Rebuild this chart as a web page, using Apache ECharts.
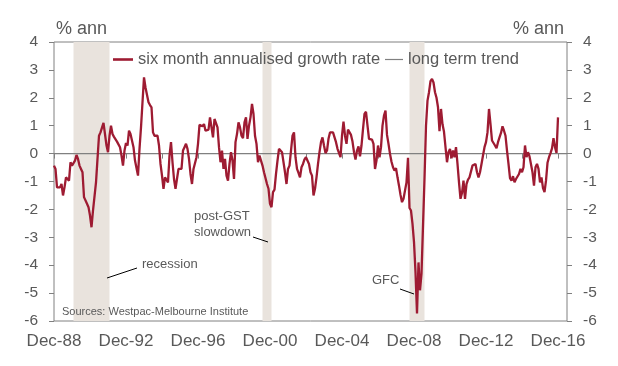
<!DOCTYPE html>
<html><head><meta charset="utf-8">
<script src="https://cdn.jsdelivr.net/npm/echarts@6/dist/echarts.min.js"></script>
<style>html,body{margin:0;padding:0;background:#fff}#c{width:618px;height:366px}</style>
</head><body><div id="c"></div>
<script>
// ---------- DATA ----------
const MONTH_NAMES = ['Jan','Feb','Mar','Apr','May','Jun','Jul','Aug','Sep','Oct','Nov','Dec'];
const START_YEAR = 1988, START_MONTH = 11, N_MONTHS = 343; // Dec-88 .. Jun-17 (axis span)
const categories = [];
for (let i = 0; i < N_MONTHS; i++) {
  const y = START_YEAR + Math.floor((START_MONTH + i) / 12);
  const m = (START_MONTH + i) % 12;
  categories.push(MONTH_NAMES[m] + '-' + String(y % 100).padStart(2, '0'));
}
const tickLabels = ['Dec-88','Dec-92','Dec-96','Dec-00','Dec-04','Dec-08','Dec-12','Dec-16'];
const yTicks = [-6,-5,-4,-3,-2,-1,0,1,2,3,4];

// six month annualised growth rate, monthly, Dec-88 onward
const growth1989_92 = [-0.43,-0.55,-1.21,-1.26,-1.21,-1.09,-1.50,-1.21,-0.85,-0.88,-0.97,-0.31,
  -0.43,-0.49,-0.25,-0.05,-0.19,-0.43,-0.55,-0.67,-1.56,-1.62,-1.80,-1.92,
  -2.22,-2.64,-2.04,-1.98,-1.03,-0.19,0.64,0.76,0.70,1.10,1.12,0.29,
  0.05,0.64,1.00,0.70,0.60,0.53,0.43,0.38,0.23,-0.07,-0.43,0.11];
const growth1993_96 = [0.38,0.29,0.82,0.70,0.74,0.23,-0.25,-0.19,-0.79,0.17,0.94,1.84,
  2.73,2.37,2.32,1.84,1.74,1.66,0.76,0.64,0.67,0.64,0.29,-0.37,
  -0.79,-1.26,-0.85,-0.79,-1.03,-0.07,0.41,-0.31,-0.91,-1.26,-1.21,-0.55,
  -0.49,-0.55,0.11,0.23,0.35,0.17,-0.19,-0.73,-1.09,-0.55,-0.49,-0.13];
const growth1997_00 = [0.35,1.03,1.00,0.98,1.06,0.82,0.82,0.86,1.30,1.36,0.58,1.24,
  1.26,0.94,0.23,-0.31,0.11,-0.55,-0.19,-0.79,-0.97,-0.37,0.05,-0.25,
  -0.91,0.41,0.70,1.12,0.94,0.64,0.55,1.12,1.30,0.53,1.00,1.30,
  1.78,1.42,0.64,0.35,-0.31,-0.07,-0.05,-0.43,-0.67,-0.67,-1.09,-1.26];
const growth2001_04 = [-1.80,-1.92,-1.38,-1.29,-0.73,-0.25,0.17,0.14,0.05,0.02,-0.67,-1.09,
  -0.55,-0.43,0.11,0.64,0.76,-0.13,-0.55,-0.69,-0.85,-0.49,-0.37,-0.21,
  -0.13,-0.19,-0.37,-0.67,-0.79,-1.50,-1.26,-0.85,-0.37,0.05,0.41,0.58,
  0.29,0.02,0.11,0.53,0.76,0.82,0.76,0.70,0.41,0.17,0.17,-0.13];
const growth2005_08 = [0.64,1.15,0.64,0.35,0.86,0.82,0.67,0.43,0.05,-0.21,0.11,0.26,
  -0.10,0.29,0.88,1.42,1.50,1.00,0.53,0.47,0.50,0.35,-0.55,-0.25,
  0.29,-0.13,0.23,1.00,1.36,1.54,0.67,0.35,-0.01,-0.29,-0.49,-0.61,
  -0.52,-0.85,-1.15,-1.48,-1.74,-1.62,-1.62,-1.03,-0.15,-1.95,-2.04,-2.52];
const growth2009_12 = [-3.17,-4.25,-5.73,-3.90,-4.90,-4.30,-2.60,-0.90,1.00,1.90,2.20,2.60,
  2.68,2.55,2.20,2.00,1.66,0.80,1.60,1.05,0.78,0.82,-0.31,0.05,
  0.17,-0.17,0.11,-0.13,0.23,-0.37,-1.03,-1.62,-1.41,-0.97,-1.62,-1.09,
  -0.93,-0.85,-0.85,-0.43,-0.41,-0.37,-0.67,-0.85,-0.67,-0.37,-0.07,0.23];
const growth2013_16 = [0.41,0.76,1.60,1.06,0.47,0.41,0.29,0.19,0.41,0.58,0.74,0.98,
  0.82,0.64,0.11,-0.37,-0.88,-0.97,-0.81,-1.03,-0.91,-0.97,-0.73,-0.55,
  -0.67,-0.49,0.29,-0.13,0.05,-0.10,-0.07,-0.67,-1.15,-0.49,-0.37,-0.55,
  -1.03,-0.85,-1.24,-1.38,-0.97,-0.33,-0.13,0.02,0.19,0.55,0.23,0.02,
  1.30];
const growthRate = [].concat(growth1989_92, growth1993_96, growth1997_00,
  growth2001_04, growth2005_08, growth2009_12, growth2013_16);
const longTermTrend = categories.map(() => 0);

const slowdowns = [['Jan-90','Jan-92'], ['Jul-00','Jan-01'], ['Sep-08','Jul-09']];

// ---------- CHART ----------
const FONT = '"Liberation Sans", Arial, sans-serif';
const TXT = '#595959';
const AX = '#808080';
const RED = '#9E1B32';
const GREY = '#808080';
const legendBase = {
  top: 51, padding: 0, icon: 'rect', itemWidth: 20,
  textStyle: {fontSize: 16.5, color: TXT, fontFamily: FONT}
};
const chart = echarts.init(document.getElementById('c'), null, {renderer: 'canvas'});
chart.setOption({
  animation: false,
  backgroundColor: '#fff',
  textStyle: {fontFamily: FONT},
  grid: {left: 54, right: 51, top: 42, bottom: 45, show: true, borderColor: AX, borderWidth: 1, backgroundColor: 'transparent'},
  legend: [
    Object.assign({}, legendBase, {left: 113, itemHeight: 2.6, data: ['six month annualised growth rate']}),
    Object.assign({}, legendBase, {left: 385, itemWidth: 18, itemHeight: 1.2, data: ['long term trend']})
  ],
  xAxis: {
    type: 'category', data: categories, boundaryGap: false,
    axisLine: {show: false},
    axisTick: {show: true, interval: 23, length: 5, lineStyle: {color: AX}},
    axisLabel: {
      interval: (i, v) => tickLabels.includes(v), fontSize: 17, color: TXT, margin: 12, fontFamily: FONT
    },
    splitLine: {show: false}
  },
  yAxis: [0, 1].map(i => ({
    type: 'value', min: yTicks[0], max: yTicks[yTicks.length - 1], interval: 1,
    position: i === 0 ? 'left' : 'right',
    axisLine: {show: false},
    axisTick: {show: true, length: 5, lineStyle: {color: AX}},
    axisLabel: {fontSize: 15.5, color: TXT, margin: 16, fontFamily: FONT},
    splitLine: {show: false}
  })),
  series: [
    {
      name: 'long term trend', type: 'line', data: longTermTrend, symbol: 'none', z: 1,
      lineStyle: {color: GREY, width: 1.2}, itemStyle: {color: GREY},
      silent: true,
      markArea: {
        silent: true, itemStyle: {color: '#E9E3DD'},
        data: slowdowns.map(b => [{xAxis: b[0]}, {xAxis: b[1]}])
      }
    },
    {
      name: 'six month annualised growth rate', type: 'line', data: growthRate, symbol: 'none', z: 3,
      lineStyle: {color: RED, width: 2.3}, itemStyle: {color: RED},
      sampling: null
    }
  ],
  graphic: {
    elements: [
      {type: 'text', z: 100, style: {text: '% ann', x: 56, y: 29, fill: TXT, font: '18px ' + FONT, textAlign: 'left', textVerticalAlign: 'middle'}},
      {type: 'text', z: 100, style: {text: '% ann', x: 564, y: 29, fill: TXT, font: '18px ' + FONT, textAlign: 'right', textVerticalAlign: 'middle'}},
      {type: 'text', z: 100, style: {text: 'recession', x: 142, y: 264, fill: TXT, font: '13px ' + FONT, textVerticalAlign: 'middle'}},
      {type: 'line', z: 100, shape: {x1: 107, y1: 278, x2: 137, y2: 268}, style: {stroke: '#000', lineWidth: 1}},
      {type: 'text', z: 100, style: {text: 'post-GST', x: 194, y: 216, fill: TXT, font: '13px ' + FONT, textVerticalAlign: 'middle'}},
      {type: 'text', z: 100, style: {text: 'slowdown', x: 194, y: 232, fill: TXT, font: '13px ' + FONT, textVerticalAlign: 'middle'}},
      {type: 'line', z: 100, shape: {x1: 253, y1: 237, x2: 268, y2: 242}, style: {stroke: '#000', lineWidth: 1}},
      {type: 'text', z: 100, style: {text: 'GFC', x: 372, y: 280, fill: TXT, font: '13px ' + FONT, textVerticalAlign: 'middle'}},
      {type: 'line', z: 100, shape: {x1: 400, y1: 289, x2: 414, y2: 294}, style: {stroke: '#000', lineWidth: 1}},
      {type: 'text', z: 100, style: {text: 'Sources: Westpac-Melbourne Institute', x: 62, y: 312, fill: TXT, font: '11px ' + FONT, textVerticalAlign: 'middle'}}
    ]
  }
});
</script>
</body></html>
